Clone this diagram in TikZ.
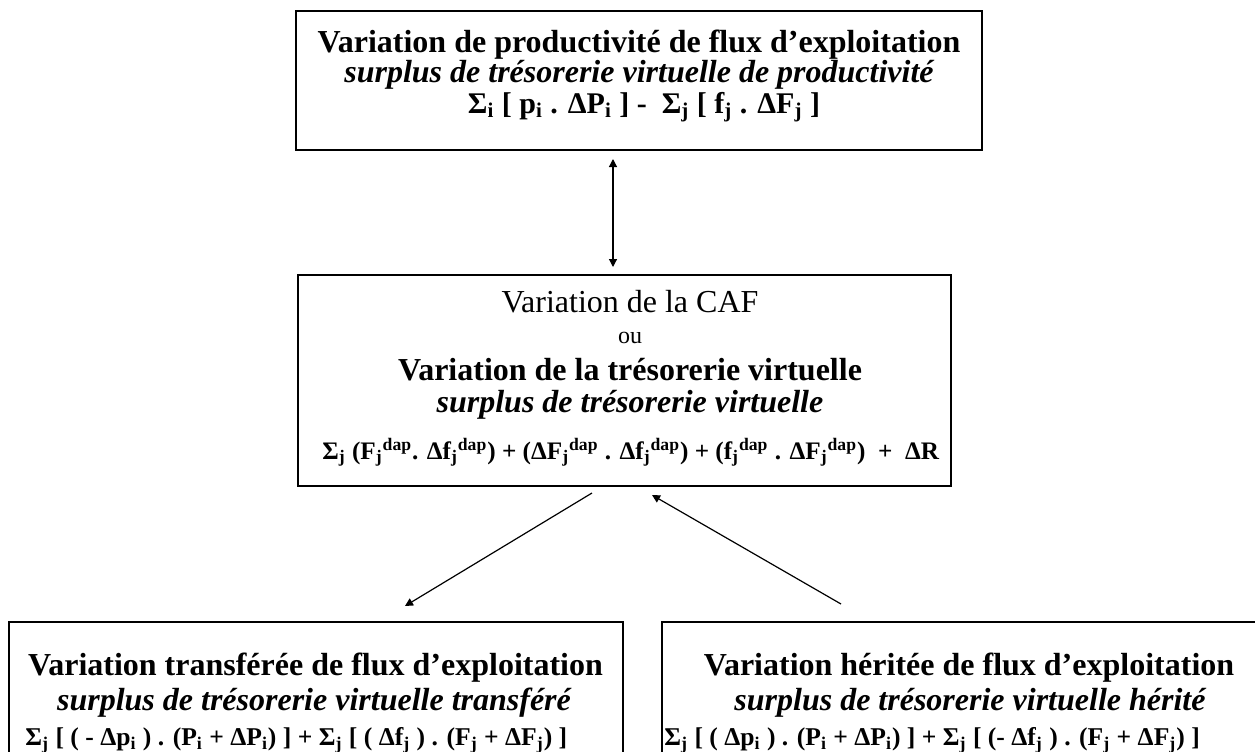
\documentclass[tikz,border=0pt]{standalone}
\usepackage{fontspec}
\setmainfont{Liberation Serif}
\usetikzlibrary{arrows.meta}

\begin{document}
\begin{tikzpicture}[x=0.5pt,y=-0.5pt]
        \tikzstyle{box}=[draw=black, line width=1pt, rectangle, inner sep=0pt]
        \tikzstyle{titre}=[font=\fontsize{16}{19}\selectfont\bfseries, anchor=base, inner sep=0pt]
        \tikzstyle{plain}=[font=\fontsize{16}{19}\selectfont, anchor=base, inner sep=0pt]
        \tikzstyle{sous}=[font=\fontsize{16}{19}\selectfont\bfseries\itshape, anchor=base, inner sep=0pt]
        \tikzstyle{formule}=[font=\fontsize{12.8}{15}\selectfont\bfseries, anchor=base west, inner sep=0pt]
        \tikzstyle{fleche}=[line width=0.6pt, -{Triangle[length=4pt,width=4pt]}]

        \useasboundingbox (0,0) rectangle (1255,751);
        \clip (0,0) rectangle (1255,751);

        % the four boxes
        \node[box, minimum width=343pt, minimum height=69.5pt] (prod) at (639,80.5) {};
        \node[box, minimum width=326.5pt, minimum height=105.5pt] (caf) at (624.5,380.5) {};
        \node[box, minimum width=307pt, minimum height=74pt] (transf) at (316,696) {};
        \node[box, minimum width=307pt, minimum height=74pt] (herit) at (969,696) {};

        % productivite
        \node[titre] (ProdTitle) at (639,52) {Variation de productivité de flux d’exploitation};
        \node[sous] (ProdSub) at (639,82) {surplus de trésorerie virtuelle de productivité};
        \node[formule, anchor=base, font=\fontsize{15}{18}\selectfont\bfseries] (ProdEq) at (644,113) {Σ\textsubscript{i} [ p\textsubscript{i} . ΔP\textsubscript{i} ] -~~Σ\textsubscript{j} [ f\textsubscript{j} . ΔF\textsubscript{j} ]};

        % CAF
        \node[plain] (CafTitle) at (630,312) {Variation de la CAF};
        \node[plain, font=\fontsize{12}{14}\selectfont] (CafOu) at (630,343) {ou};
        \node[titre] (TresoTitle) at (630,380) {Variation de la trésorerie virtuelle};
        \node[sous] (TresoSub) at (630,412) {surplus de trésorerie virtuelle};
        \node[formule, font=\fontsize{12.6}{15}\selectfont\bfseries] (TresoEq) at (322,459) {Σ\textsubscript{j} (F\textsubscript{j}\textsuperscript{dap}. Δf\textsubscript{j}\textsuperscript{dap}) + (ΔF\textsubscript{j}\textsuperscript{dap} . Δf\textsubscript{j}\textsuperscript{dap}) + (f\textsubscript{j}\textsuperscript{dap} . ΔF\textsubscript{j}\textsuperscript{dap})~~+~~ΔR};

        % transferee
        \node[titre] (TransfTitle) at (315.5,675) {Variation transférée de flux d’exploitation};
        \node[sous] (TransfSub) at (314,710) {surplus de trésorerie virtuelle transféré};
        \node[formule] (TransfEq) at (25,745) {Σ\textsubscript{j} [ ( - Δp\textsubscript{i} ) . (P\textsubscript{i} + ΔP\textsubscript{i}) ] + Σ\textsubscript{j} [ ( Δf\textsubscript{j} ) . (F\textsubscript{j} + ΔF\textsubscript{j}) ]};

        % heritee
        \node[titre] (HeritTitle) at (969,675) {Variation héritée de flux d’exploitation};
        \node[sous] (HeritSub) at (970,710) {surplus de trésorerie virtuelle hérité};
        \node[formule] (HeritEq) at (664,745) {Σ\textsubscript{j} [ ( Δp\textsubscript{i} ) . (P\textsubscript{i} + ΔP\textsubscript{i}) ] + Σ\textsubscript{j} [ (- Δf\textsubscript{j} ) . (F\textsubscript{j} + ΔF\textsubscript{j}) ]};

        \draw [fleche, {Triangle[length=4pt,width=4pt]}-{Triangle[length=4pt,width=4pt]}] ([xshift=-13pt,yshift=-4pt]prod.south) -- ([xshift=-5.75pt,yshift=3.5pt]caf.north);
        \draw [fleche] ([xshift=-16.25pt,yshift=-3pt]caf.south) -- ([xshift=44.5pt,yshift=7.5pt]transf.north);
        \draw [fleche] ([xshift=-64pt,yshift=8.5pt]herit.north) -- ([xshift=13.75pt,yshift=-4pt]caf.south);
\end{tikzpicture}
\end{document}
